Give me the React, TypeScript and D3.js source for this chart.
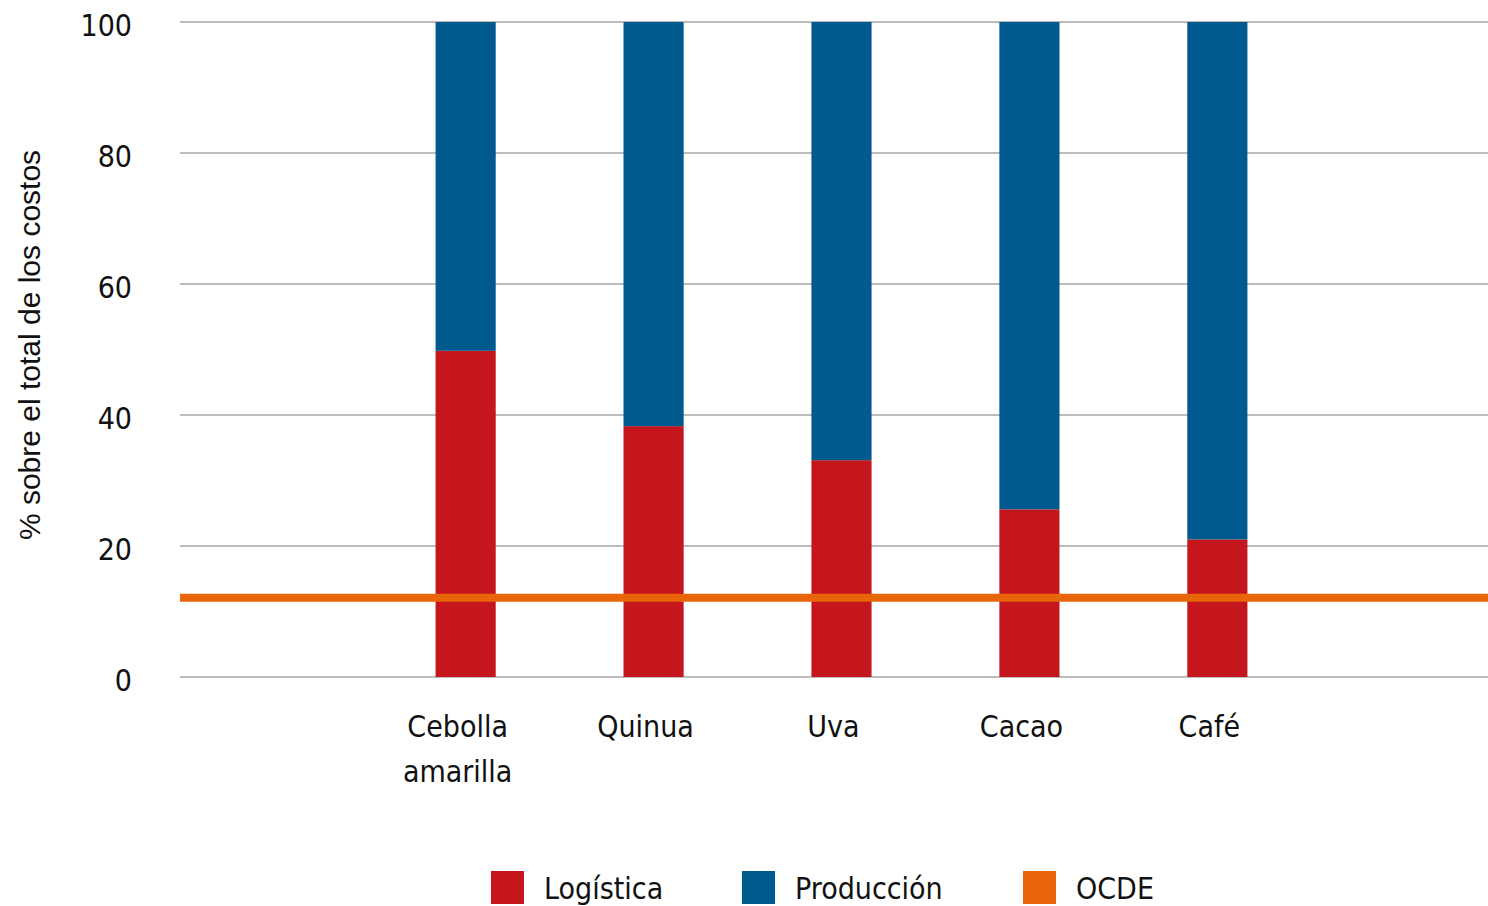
import React, { useEffect, useRef } from 'react';
import * as d3 from 'd3';

const categories = ['Cebolla\namarilla', 'Quinua', 'Uva', 'Cacao', 'Café'];
const logistica = [49.8, 38.3, 33.1, 25.6, 21.0];
const produccion = logistica.map(v => 100 - v);
const ocde = 12.1;
const yTicks = [0, 20, 40, 60, 80, 100];
const legendItems = ['Logística', 'Producción', 'OCDE'];

const RED = '#c4161c';
const BLUE = '#005a8e';
const ORANGE = '#e8650a';
const GRID = '#bcbcbc';
const LABEL_FONT = '"DejaVu Sans Condensed", "DejaVu Sans", sans-serif';

function Chart() {
	const ref = useRef<SVGSVGElement>(null);

	useEffect(() => {
		const w = 1488;
		const h = 906;
		const left = 180;
		const top = 22;
		const bottom = 677;

		const svg = d3.select(ref.current);
		svg.selectAll('*').remove();

		const x = d3
			.scaleBand()
			.domain(categories)
			.range([left, 1503])
			.paddingInner(0.68)
			.paddingOuter(1.36);

		const y = d3.scaleLinear().domain([0, 100]).range([bottom, top]);

		// grid lines
		svg
			.append('g')
			.selectAll('line')
			.data(yTicks)
			.enter()
			.append('line')
			.attr('x1', left)
			.attr('x2', w)
			.attr('y1', d => y(d))
			.attr('y2', d => y(d))
			.attr('stroke', GRID)
			.attr('stroke-width', 2);

		// y tick labels
		svg
			.append('g')
			.selectAll('text')
			.data(yTicks)
			.enter()
			.append('text')
			.text(d => d)
			.attr('x', 132)
			.attr('y', d => y(d) + 14)
			.attr('text-anchor', 'end')
			.attr('font-family', LABEL_FONT)
			.attr('font-size', 30)
			.attr('fill', '#111');

		// y axis title
		svg
			.append('text')
			.text('% sobre el total de los costos')
			.attr('transform', `translate(40, ${(150 + 540) / 2}) rotate(-90)`)
			.attr('text-anchor', 'middle')
			.attr('font-family', '"Liberation Sans", Arial, sans-serif')
			.attr('font-size', 30)
			.attr('fill', '#111');

		const bars = svg.append('g');
		bars
			.selectAll('rect.log')
			.data(categories)
			.enter()
			.append('rect')
			.attr('class', 'log')
			.attr('x', d => x(d)!)
			.attr('width', x.bandwidth())
			.attr('y', (d, i) => y(logistica[i]))
			.attr('height', (d, i) => y(0) - y(logistica[i]))
			.attr('fill', RED);

		bars
			.selectAll('rect.prod')
			.data(categories)
			.enter()
			.append('rect')
			.attr('class', 'prod')
			.attr('x', d => x(d)!)
			.attr('width', x.bandwidth())
			.attr('y', (d, i) => y(logistica[i] + produccion[i]))
			.attr('height', (d, i) => y(logistica[i]) - y(logistica[i] + produccion[i]))
			.attr('fill', BLUE);

		// OCDE line
		svg
			.append('line')
			.attr('x1', left)
			.attr('x2', w)
			.attr('y1', y(ocde))
			.attr('y2', y(ocde))
			.attr('stroke', ORANGE)
			.attr('stroke-width', 8);

		// category labels
		const cat = svg
			.append('g')
			.selectAll('text')
			.data(categories)
			.enter()
			.append('text')
			.attr('x', d => x(d)! + x.bandwidth() / 2 - 8)
			.attr('y', 737)
			.attr('text-anchor', 'middle')
			.attr('font-family', LABEL_FONT)
			.attr('font-size', 30)
			.attr('fill', '#111');
		cat
			.selectAll('tspan')
			.data(d => d.split('\n'))
			.enter()
			.append('tspan')
			.attr('x', function () {
				return (this.parentNode as SVGTextElement).getAttribute('x');
			})
			.attr('dy', (d, i) => (i === 0 ? 0 : 45))
			.text(d => d);

		// legend
		const legendX = [491, 742, 1023];
		const legendColors = [RED, BLUE, ORANGE];
		const lg = svg
			.append('g')
			.selectAll('g')
			.data(legendItems)
			.enter()
			.append('g')
			.attr('transform', (d, i) => `translate(${legendX[i]}, 871)`);
		lg.append('rect')
			.attr('width', 33)
			.attr('height', 33)
			.attr('fill', (d, i) => legendColors[i]);
		lg.append('text')
			.text(d => d)
			.attr('x', 53)
			.attr('y', 28)
			.attr('font-family', LABEL_FONT)
			.attr('font-size', 30)
			.attr('fill', '#111');

		svg.attr('width', w).attr('height', h);
	}, []);

	return (
		<svg
			ref={ref}
			width={1488}
			height={906}
			style={{ position: 'absolute', left: 0, top: 0, background: '#fff' }}
		/>
	);
}

export default function App() {
	return <Chart />;
}
